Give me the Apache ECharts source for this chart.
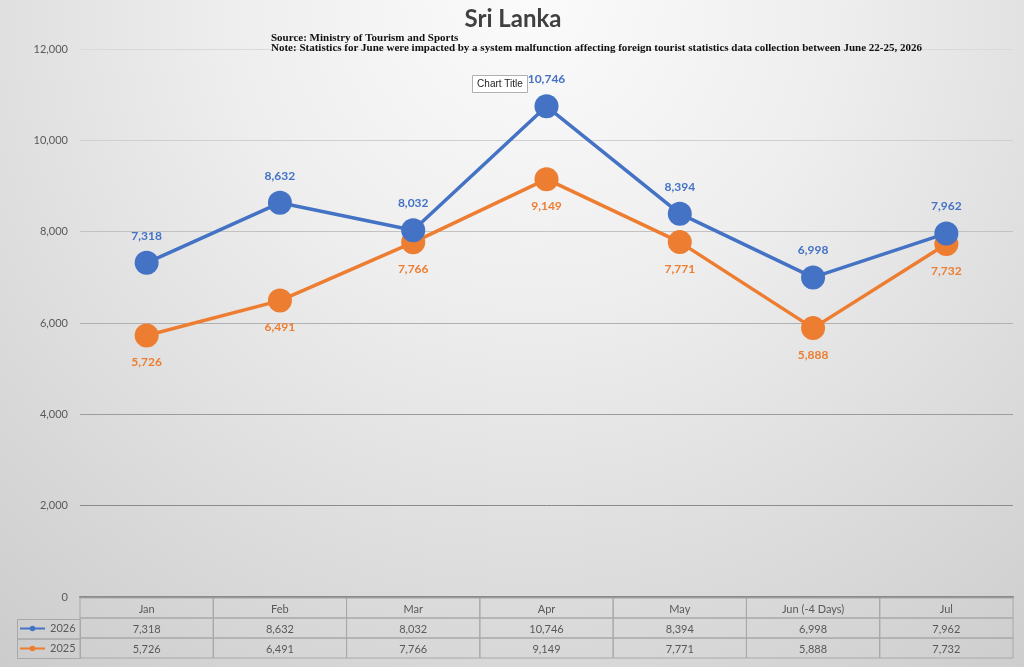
<!DOCTYPE html>
<html>
<head>
<meta charset="utf-8">
<script src="https://cdn.jsdelivr.net/npm/echarts@6/dist/echarts.min.js"></script>
<style>html,body{margin:0;padding:0;}#c{width:1024px;height:667px;}</style>
</head>
<body>
<div id="c"></div>
<script>
const categories = ['Jan', 'Feb', 'Mar', 'Apr', 'May', 'Jun (-4 Days)', 'Jul'];
const series2026 = [7318, 8632, 8032, 10746, 8394, 6998, 7962];
const series2025 = [5726, 6491, 7766, 9149, 7771, 5888, 7732];
const seriesNames = ['2026', '2025'];
const yTicks = [0, 2000, 4000, 6000, 8000, 10000, 12000];
const titleText = 'Sri Lanka';
const sourceText = 'Source: Ministry of Tourism and Sports';
const noteText = 'Note: Statistics for June were impacted by a system malfunction affecting foreign tourist statistics data collection between June 22-25, 2026';

const fmt = v => v.toLocaleString('en-US');
const rows = [categories, series2026.map(fmt), series2025.map(fmt)];
const tableData = [];
for (let r = 0; r < 3; r++) for (let i = 0; i < categories.length; i++) tableData.push([i, r]);

const chart = echarts.init(document.getElementById('c'));
const FONT = 'Lato';
chart.setOption({
  backgroundColor: {
    type: 'radial', x: 0.52, y: 0.0, r: 1.3,
    colorStops: [
      {offset: 0, color: '#fbfbfb'},
      {offset: 0.35, color: '#eeeeee'},
      {offset: 0.7, color: '#dbdbdb'},
      {offset: 1, color: '#cbcbcb'}
    ]
  },
  textStyle: {fontFamily: FONT},
  title: [
    {text: titleText, left: 508, top: 2, textAlign: 'center',
     textStyle: {fontFamily: FONT, fontSize: 24, fontWeight: 'bold', color: '#404040'}}
  ],
  legend: {
    data: seriesNames, orient: 'vertical', left: 14, top: 618, itemGap: 9,
    itemWidth: 25, itemHeight: 7,
    textStyle: {fontFamily: FONT, fontSize: 11, color: '#595959'}
  },
  grid: [
    {left: 80, right: 11, top: 49, bottom: 70, containLabel: false},
    {left: 80, right: 11, top: 598, height: 60, containLabel: false}
  ],
  xAxis: [
    {type: 'category', data: categories, gridIndex: 0, boundaryGap: true,
     axisLine: {show: true, lineStyle: {color: '#8a8a8a', width: 2}},
     axisTick: {show: false}, axisLabel: {show: false}},
    {type: 'category', data: categories, gridIndex: 1, boundaryGap: true, show: false}
  ],
  yAxis: [
    {type: 'value', gridIndex: 0, min: yTicks[0], max: yTicks[yTicks.length - 1], interval: 2000,
     axisLine: {show: false}, axisTick: {show: false},
     axisLabel: {margin: 12, fontFamily: FONT, fontSize: 11, color: '#595959', formatter: v => fmt(v)},
     splitLine: {lineStyle: {width: 1, color: ['#8a8a8a', '#8c8c8c', '#9c9c9c', '#b0b0b0', '#c2c2c2', '#cfcfcf', '#d9d9d9']}}},
    {type: 'category', data: ['', seriesNames[0], seriesNames[1]], gridIndex: 1, inverse: true, show: false}
  ],
  series: [
    {name: seriesNames[0], type: 'line', data: series2026, xAxisIndex: 0, yAxisIndex: 0,
     color: '#4472C4', symbol: 'circle', symbolSize: 24, lineStyle: {width: 3.5},
     label: {show: true, position: 'top', distance: 9, formatter: p => fmt(p.value),
             fontFamily: FONT, fontSize: 12, fontWeight: 'bold', color: '#4472C4'}, z: 3},
    {name: seriesNames[1], type: 'line', data: series2025, xAxisIndex: 0, yAxisIndex: 0,
     color: '#ED7D31', symbol: 'circle', symbolSize: 24, lineStyle: {width: 3.5},
     label: {show: true, position: 'bottom', distance: 9, formatter: p => fmt(p.value),
             fontFamily: FONT, fontSize: 12, fontWeight: 'bold', color: '#ED7D31'}, z: 2},
    {type: 'custom', xAxisIndex: 1, yAxisIndex: 1, data: tableData, silent: true,
     renderItem: function (params, api) {
       const i = api.value(0), r = api.value(1);
       const c = api.coord([i, r]);
       const s = api.size([1, 1]);
       return {type: 'group', children: [
         {type: 'rect', shape: {x: c[0] - s[0] / 2, y: c[1] - s[1] / 2, width: s[0], height: s[1]},
          style: {fill: 'rgba(0,0,0,0)', stroke: '#a8a8a8', lineWidth: 1}},
         {type: 'text', style: {text: rows[r][i], x: c[0], y: c[1] + 1, align: 'center', verticalAlign: 'middle',
          fill: '#595959', font: '11px ' + FONT}}
       ]};
     }}
  ],
  graphic: [
    {type: 'text', left: 271, top: 33, z: 100, style: {text: sourceText, fill: '#111', font: 'bold 11px "Liberation Serif"'}},
    {type: 'text', left: 271, top: 43, z: 100, style: {text: noteText, fill: '#111', font: 'bold 11px "Liberation Serif"'}},
    {type: 'rect', left: 17, top: 619, shape: {width: 63, height: 19.5}, style: {fill: 'rgba(0,0,0,0)', stroke: '#a8a8a8', lineWidth: 1}, z: -1},
    {type: 'rect', left: 17, top: 638.5, shape: {width: 63, height: 19.5}, style: {fill: 'rgba(0,0,0,0)', stroke: '#a8a8a8', lineWidth: 1}, z: -1},
    {type: 'group', left: 472, top: 75, z: 10, children: [
      {type: 'rect', shape: {x: 0, y: 0, width: 55, height: 17}, style: {fill: '#ffffff', stroke: '#b0b0b0', lineWidth: 1}},
      {type: 'text', style: {text: 'Chart Title', x: 27.5, y: 9, align: 'center', verticalAlign: 'middle', fill: '#222', font: '10px "Liberation Sans"'}}
    ]}
  ]
});
</script>
</body>
</html>
